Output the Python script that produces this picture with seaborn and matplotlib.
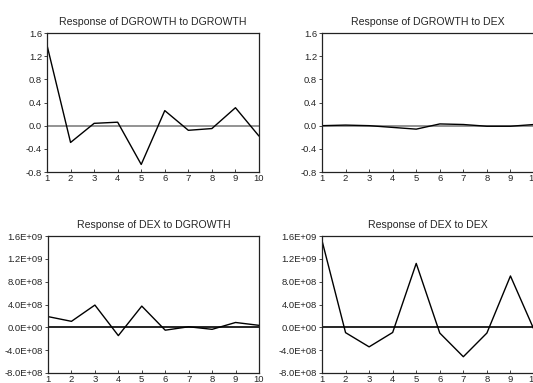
import numpy as np
import pandas as pd
import matplotlib
matplotlib.use("Agg")
import matplotlib.pyplot as plt
import seaborn as sns

sns.set_style("ticks")
plt.rcParams['font.family'] = ['Liberation Sans', 'DejaVu Sans']

# Impulse response data (periods 1..10)
periods = list(range(1, 11))
dgrowth_to_dgrowth = [1.39, -0.29, 0.04, 0.06, -0.67, 0.26, -0.08, -0.05, 0.31, -0.18]
dgrowth_to_dex = [0.0, 0.01, 0.0, -0.03, -0.06, 0.03, 0.02, -0.01, -0.01, 0.02]
dex_to_dgrowth = [1.88e8, 1.05e8, 3.9e8, -1.45e8, 3.72e8, -0.5e8, 0.1e8, -0.35e8, 0.85e8, 0.35e8]
dex_to_dex = [1.52e9, -0.93e8, -3.42e8, -0.9e8, 1.12e9, -1.0e8, -5.15e8, -1.0e8, 0.9e9, -0.4e8]

top_ticks = [-0.8, -0.4, 0.0, 0.4, 0.8, 1.2, 1.6]
top_labels = ["-0.8", "-0.4", "0.0", "0.4", "0.8", "1.2", "1.6"]
bot_ticks = [-8e8, -4e8, 0, 4e8, 8e8, 1.2e9, 1.6e9]
bot_labels = ["-8.0E+08", "-4.0E+08", "0.0E+00", "4.0E+08", "8.0E+08", "1.2E+09", "1.6E+09"]

W, H = 533, 383
fig = plt.figure(figsize=(W / 100, H / 100), dpi=100)

panels = [
    ("Response of DGROWTH to DGROWTH", dgrowth_to_dgrowth, (47, 259, 33, 172), top_ticks, top_labels, "#808080"),
    ("Response of DGROWTH to DEX", dgrowth_to_dex, (322, 534, 33, 172), top_ticks, top_labels, "#808080"),
    ("Response of DEX to DGROWTH", dex_to_dgrowth, (48, 259, 236, 373), bot_ticks, bot_labels, "black"),
    ("Response of DEX to DEX", dex_to_dex, (322, 534, 236, 373), bot_ticks, bot_labels, "black"),
]

for title, vals, (x0, x1, y0, y1), yt, yl, zc in panels:
    ax = fig.add_axes([x0 / W, (H - y1) / H, (x1 - x0) / W, (y1 - y0) / H])
    df = pd.DataFrame({"period": periods, "value": vals})
    ax.axhline(0, color=zc, lw=1.2, zorder=1)
    sns.lineplot(data=df, x="period", y="value", ax=ax, color="black", lw=1.0, zorder=2)
    ax.set_xlim(1, 10)
    ax.set_ylim(yt[0], yt[-1])
    ax.set_xticks(periods)
    ax.set_xticklabels([str(p) for p in periods], fontsize=6.8)
    ax.set_yticks(yt)
    ax.set_yticklabels(yl, fontsize=6.8)
    ax.tick_params(axis="x", direction="in", length=2.5, width=0.6, pad=1.5)
    ax.tick_params(axis="y", direction="out", length=2.5, width=0.6, pad=1)
    ax.set_xlabel("")
    ax.set_ylabel("")
    ax.set_title(title, fontsize=7.6, pad=6)
    for s in ax.spines.values():
        s.set_linewidth(0.9)
        s.set_color("#222222")

fig.savefig("out.png", dpi=100)
